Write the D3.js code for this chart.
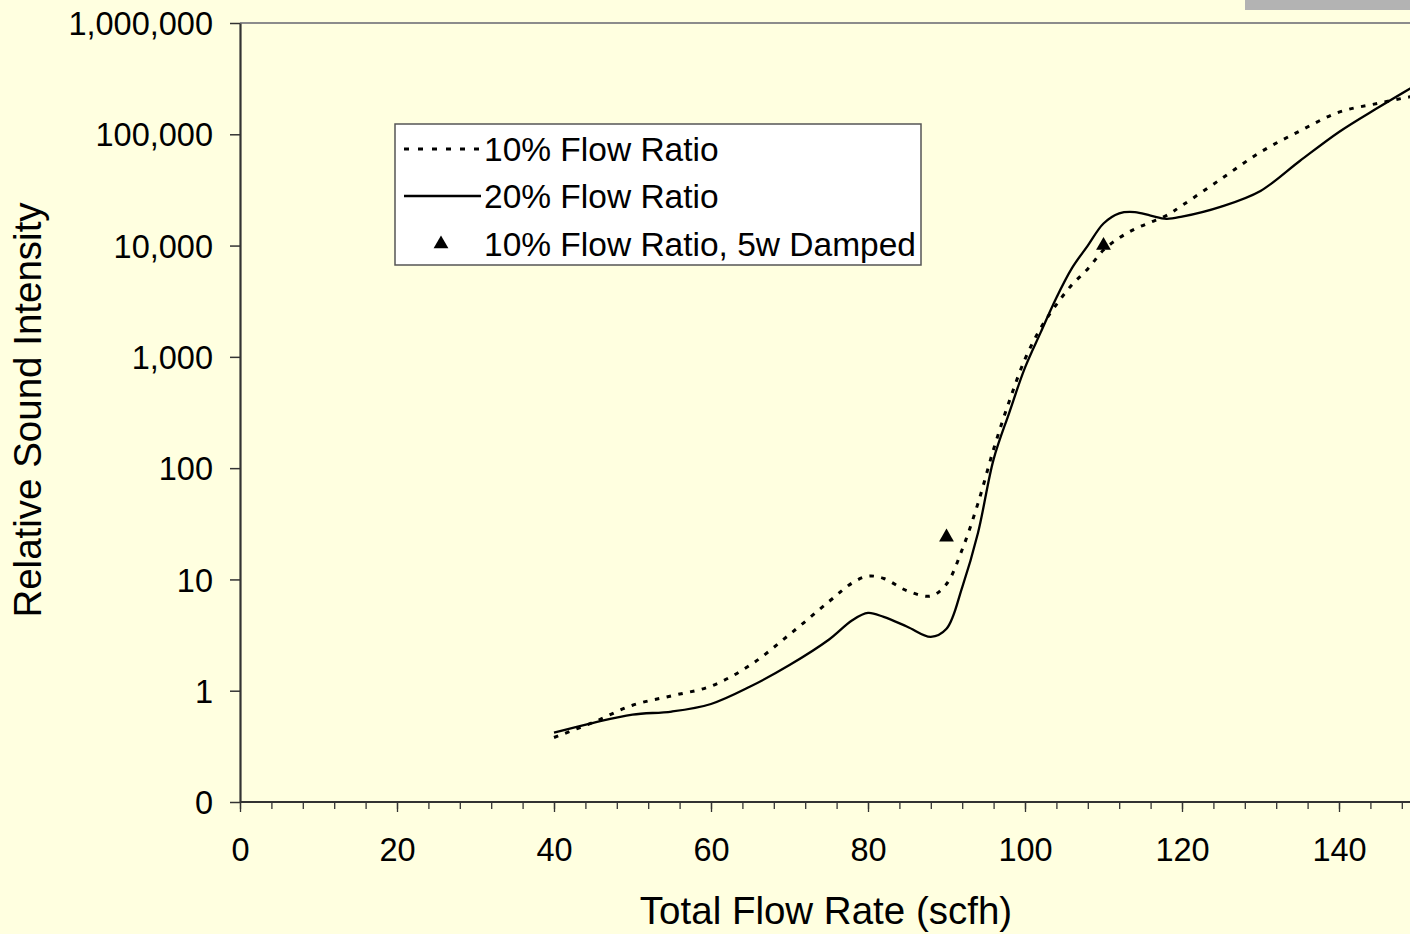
<!DOCTYPE html>
<html>
<head>
<meta charset="utf-8">
<script src="https://cdn.jsdelivr.net/npm/d3@7"></script>
<style>
    body { margin: 0; background: #FFFFE0; }
    svg { display: block; font-family: "Liberation Sans", Arial, sans-serif; }
    .axis path, .axis line { stroke: #333; }
    .ratio10 { fill: none; stroke: #000; stroke-width: 3; stroke-dasharray: 4.5,7.5; }
    .ratio20 { fill: none; stroke: #000; stroke-width: 2.3; }
</style>
</head>
<body>
<svg id="chart" width="1410" height="934"></svg>
<script>
// flow rate (scfh) readings for the two smoothed curves
let flow = [40, 45, 50, 55, 60, 65, 70, 75, 78, 80, 82, 85, 88, 90, 92, 94, 96, 98, 100,
            102, 104, 106, 108, 110, 112, 114, 116, 118, 120, 125, 130, 135, 140, 145, 150];

// 10% flow ratio (dotted)
let ratio10 = [0.38, 0.52, 0.74, 0.9, 1.1, 1.7, 3.2, 6.3, 9.3, 10.7, 10.2, 7.9, 7.1, 9.1, 18.6,
               48, 148, 400, 955, 1820, 2950, 4470, 6170, 9120, 11700, 14100, 16200, 18600,
               22900, 39800, 69200, 107000, 158000, 190000, 224000];

// 20% flow ratio (solid)
let ratio20 = [0.42, 0.515, 0.61, 0.65, 0.76, 1.09, 1.7, 2.87, 4.3, 5.0, 4.6, 3.76, 3.05, 3.6, 8.5,
               26, 120, 316, 800, 1660, 3400, 6300, 10000, 15800, 19500, 20000, 18600, 17400,
               18200, 22400, 31000, 57500, 105000, 174000, 282000];

// 10% flow ratio, 5w damped (triangles)
let dampedFlow = [90, 110];
let dampedVals = [24, 10000];

let xTicks = [0, 20, 40, 60, 80, 100, 120, 140];
let yTicks = [0.1, 1, 10, 100, 1000, 10000, 100000, 1000000];
let legendLabels = ["10% Flow Ratio", "20% Flow Ratio", "10% Flow Ratio, 5w Damped"];

let svg = d3.select("#chart");

let x = d3.scaleLinear().domain([0, 150]).range([240, 1417.5]);
let y = d3.scaleLog().domain([0.1, 1000000]).range([802, 23]);

// gray bar at top right
svg.append("rect").attr("x", 1245).attr("y", 0).attr("width", 165).attr("height", 10)
    .attr("fill", "#B3B3B3");

// plot top border
svg.append("line").attr("x1", 240).attr("x2", 1410).attr("y1", 23).attr("y2", 23)
    .attr("stroke", "#8c8c8c").attr("stroke-width", 2);

// minor x ticks every 4
svg.append("g").attr("class", "axis")
    .attr("transform", "translate(0,802)")
    .call(d3.axisBottom(x).tickValues(d3.range(0, 150, 4)).tickSize(7).tickFormat(""))
    .call(g => g.select(".domain").remove())
    .selectAll("line").attr("stroke-width", 1.3);

let xAxis = svg.append("g").attr("class", "axis")
    .attr("transform", "translate(0,802)")
    .call(d3.axisBottom(x).tickValues(xTicks).tickSize(10).tickSizeOuter(0));
xAxis.select(".domain").attr("stroke-width", 2.2).attr("d", "M240,0H1410");
xAxis.selectAll("line").attr("stroke-width", 1.3);
xAxis.selectAll("text").attr("y", 0).attr("dy", 59).attr("fill", "#000")
    .style("font-size", "32.5px");

let yAxis = svg.append("g").attr("class", "axis")
    .attr("transform", "translate(240,0)")
    .call(d3.axisLeft(y).tickValues(yTicks).tickSize(10).tickSizeOuter(0)
        .tickFormat(d => d < 1 ? "0" : d3.format(",")(d)));
yAxis.select(".domain").attr("stroke-width", 2.2);
yAxis.selectAll("line").attr("stroke-width", 1.5);
yAxis.selectAll("text").attr("x", -27).attr("dy", "0.36em").attr("fill", "#000")
    .style("font-size", "32.5px");

// axis titles
svg.append("text").attr("x", 826).attr("y", 924).attr("text-anchor", "middle")
    .style("font-size", "38.5px").text("Total Flow Rate (scfh)");
svg.append("text").attr("transform", "translate(41,410) rotate(-90)")
    .attr("text-anchor", "middle").style("font-size", "38.5px").text("Relative Sound Intensity");

// curves
let line = d3.line().x(d => x(d[0])).y(d => y(d[1])).curve(d3.curveCatmullRom.alpha(0.5));

svg.append("path").datum(d3.zip(flow, ratio10)).attr("class", "ratio10").attr("d", line);
svg.append("path").datum(d3.zip(flow, ratio20)).attr("class", "ratio20").attr("d", line);

let tri = d3.symbol().type(d3.symbolTriangle).size(95);
svg.selectAll(".damped").data(d3.zip(dampedFlow, dampedVals)).enter()
    .append("path").attr("class", "damped")
    .attr("transform", d => "translate(" + x(d[0]) + "," + y(d[1]) + ")")
    .attr("d", tri).attr("fill", "#000");

// legend
let legend = svg.append("g");
legend.append("rect").attr("x", 395).attr("y", 124).attr("width", 526).attr("height", 141)
    .attr("fill", "#fff").attr("stroke", "#555").attr("stroke-width", 1.5);

let rowY = [149, 196, 244];
legend.append("line").attr("class", "ratio10").attr("x1", 404).attr("x2", 481)
    .attr("y1", rowY[0]).attr("y2", rowY[0]).style("stroke-dasharray", "5,9");
legend.append("line").attr("class", "ratio20").attr("x1", 404).attr("x2", 481)
    .attr("y1", rowY[1]).attr("y2", rowY[1]);
legend.append("path").attr("transform", "translate(441," + rowY[2] + ")")
    .attr("d", tri).attr("fill", "#000");

legend.selectAll(".lbl").data(legendLabels).enter().append("text")
    .attr("class", "lbl")
    .attr("x", 484).attr("y", (d, i) => rowY[i]).attr("dy", "0.36em")
    .style("font-size", "33.5px").text(d => d);
</script>
</body>
</html>
